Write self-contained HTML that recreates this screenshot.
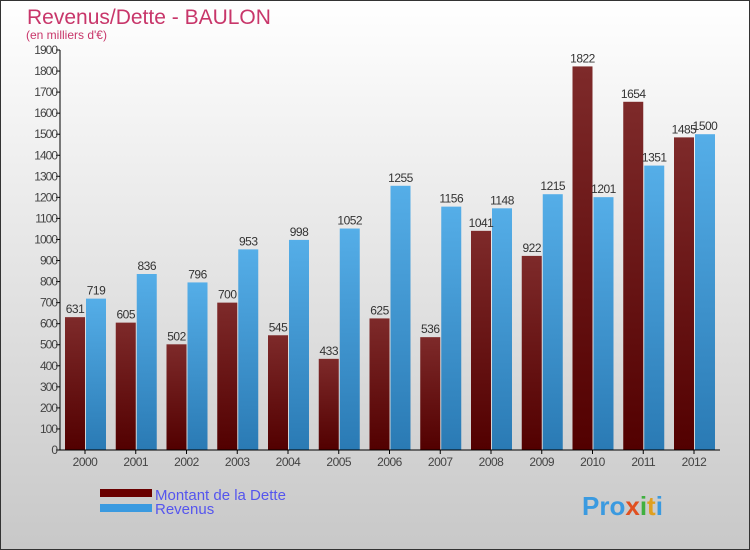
<!DOCTYPE html>
<html><head><meta charset="utf-8"><style>
body{margin:0}
#c{width:750px;height:550px;position:relative;font-family:"Liberation Sans",sans-serif;overflow:hidden}
</style></head><body>
<div id="c">
<svg id="s" width="750" height="550" xmlns="http://www.w3.org/2000/svg">
<defs>
<linearGradient id="bg" x1="0" y1="0" x2="0" y2="1"><stop offset="0" stop-color="#ffffff"/><stop offset="1" stop-color="#c8c8c8"/></linearGradient>
<linearGradient id="gd" x1="0" y1="0" x2="0" y2="1"><stop offset="0" stop-color="#7e2a2a"/><stop offset="1" stop-color="#520000"/></linearGradient>
<linearGradient id="gr" x1="0" y1="0" x2="0" y2="1"><stop offset="0" stop-color="#55aee8"/><stop offset="1" stop-color="#2a7ab4"/></linearGradient>
</defs>
<rect x="0.5" y="0.5" width="749" height="549" fill="url(#bg)" stroke="#333"/>
<text x="27" y="24" font-size="21" fill="#c8366a">Revenus/Dette - BAULON</text>
<text x="26" y="39" font-size="12" fill="#c8366a">(en milliers d'€)</text>
<g id="plot"></g>
<rect x="100" y="489" width="52" height="8" fill="#6a0000"/>
<rect x="100" y="504" width="52" height="8" fill="#3a9ae0"/>
<text x="155" y="500" font-size="15" fill="#5555ee">Montant de la Dette</text>
<text x="155" y="514" font-size="15" fill="#5555ee">Revenus</text>
<text x="582" y="515" font-size="26" font-weight="bold" fill="#3a9ae0">Pro<tspan fill="#e05020">x</tspan><tspan fill="#40b040">i</tspan><tspan fill="#e0a020">t</tspan><tspan fill="#3a9ae0">i</tspan></text>
</svg>
</div>
<script>
const years=["2000","2001","2002","2003","2004","2005","2006","2007","2008","2009","2010","2011","2012"];
const dette=[631,605,502,700,545,433,625,536,1041,922,1822,1654,1485];
const revenus=[719,836,796,953,998,1052,1255,1156,1148,1215,1201,1351,1500];
const ticks=[0,100,200,300,400,500,600,700,800,900,1000,1100,1200,1300,1400,1500,1600,1700,1800,1900];
const NS="http://www.w3.org/2000/svg";
const g=document.getElementById('plot');
const y0=450,ymax=1900,ph=400,x0=60,step=50.75,first=85;
function Y(v){return y0-v/ymax*ph;}
function X(i){return first+i*step;}
function mk(t,a){const e=document.createElementNS(NS,t);for(const k in a)e.setAttribute(k,a[k]);g.appendChild(e);return e;}
ticks.forEach(v=>{
 const l=mk('line',{x1:x0-4,x2:x0,y1:Y(v),y2:Y(v),stroke:'#000'});
 
 
 const t=mk('text',{x:x0-3,y:Y(v)+4,'font-size':12,'text-anchor':'end',fill:'#444','letter-spacing':'-1'});
 t.textContent=v;
 
 
});
years.forEach((yr,i)=>{
 const cx=X(i);
 const d=mk('rect',{x:cx-20,y:Y(dette[i]),width:20,height:dette[i]/ymax*ph,fill:'url(#gd)'});
 
 
 const r=mk('rect',{x:cx+1,y:Y(revenus[i]),width:20,height:revenus[i]/ymax*ph,fill:'url(#gr)'});
 
 
 const td=mk('text',{x:cx-10,y:Y(dette[i])-4,'font-size':12,'text-anchor':'middle',fill:'#333','letter-spacing':'-0.5'});
 td.textContent=dette[i];
 
 
 const tr=mk('text',{x:cx+11,y:Y(revenus[i])-4,'font-size':12,'text-anchor':'middle',fill:'#333','letter-spacing':'-0.5'});
 tr.textContent=revenus[i];
 
 
 const xl=mk('line',{x1:cx,x2:cx,y1:y0,y2:y0+4,stroke:'#000'});
 
 
 const xt=mk('text',{x:cx,y:y0+16,'font-size':12,'text-anchor':'middle',fill:'#444','letter-spacing':'-0.5'});
 xt.textContent=yr;
 
 
});
const ya=mk('line',{x1:x0,x2:x0,y1:Y(1900),y2:y0,stroke:'#000'});


const xa=mk('line',{x1:x0,x2:720,y1:y0,y2:y0,stroke:'#000'});


</script>
</body></html>
